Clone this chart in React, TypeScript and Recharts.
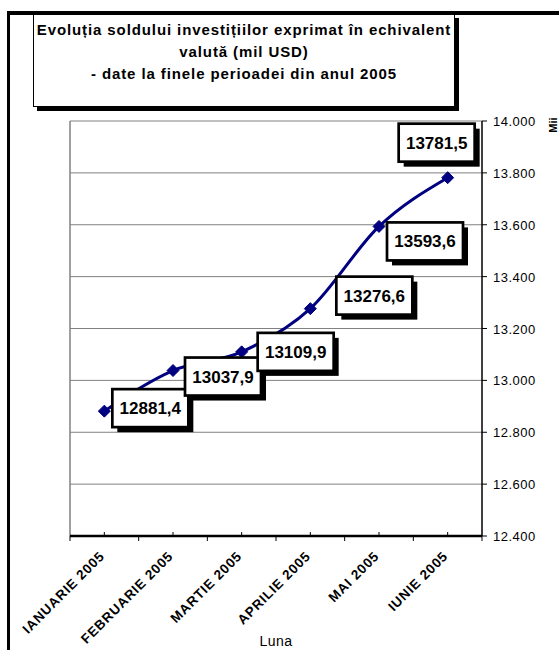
import React from "react";
import {
  LineChart,
  Line,
  XAxis,
  YAxis,
  CartesianGrid,
  ReferenceLine,
  LabelList,
  Label,
} from "recharts";

const months = [
  "IANUARIE 2005",
  "FEBRUARIE 2005",
  "MARTIE 2005",
  "APRILIE 2005",
  "MAI 2005",
  "IUNIE 2005",
];

const balance = [12881.4, 13037.9, 13109.9, 13276.6, 13593.6, 13781.5];

const yTicks = [12400, 12600, 12800, 13000, 13200, 13400, 13600, 13800, 14000];

const FONT = "Arial, 'Liberation Sans', sans-serif";
const NAVY = "#000080";

// box offsets from each point (Excel-style manual label placement)
const labelOffsets = [
  [46, -3],
  [50, 6],
  [54, 0],
  [64, -13],
  [46, 15],
  [-11, -35],
];

const data = months.map((m, i) => ({ x: i + 0.5, month: m, value: balance[i] }));

const xTicks: number[] = [];
for (let i = 0; i <= months.length * 2; i++) xTicks.push(i / 2);

const fmtThousands = (v: number) =>
  v.toString().replace(/\B(?=(\d{3})+(?!\d))/g, ".");

const MonthTick = (props: any) => {
  const { x, y, payload } = props;
  const v = payload.value as number;
  if (Number.isInteger(v)) {
    return <line x1={x} y1={y} x2={x} y2={y + 5} stroke="#000" strokeWidth={1} />;
  }
  const label = months[Math.floor(v)];
  return (
    <g>
      <line x1={x} y1={y} x2={x} y2={y - 4} stroke="#000" strokeWidth={1} />
      <text
        x={0}
        y={0}
        transform={`translate(${x + 1},${y + 21}) rotate(-45)`}
        textAnchor="end"
        fontFamily={FONT}
        fontWeight="bold"
        fontSize={13.5}
        letterSpacing={0.8}
        fill="#000"
      >
        {label}
      </text>
    </g>
  );
};

const ValueTick = (props: any) => {
  const { x, y, payload } = props;
  return (
    <text
      x={x}
      y={y + 5}
      textAnchor="start"
      fontFamily={FONT}
      fontSize={13}
      letterSpacing={0.5}
      fill="#000"
    >
      {fmtThousands(payload.value)}
    </text>
  );
};

const Diamond = (props: any) => {
  const { cx, cy } = props;
  if (cx == null || cy == null) return null;
  const r = 6;
  return (
    <polygon
      points={`${cx},${cy - r} ${cx + r},${cy} ${cx},${cy + r} ${cx - r},${cy}`}
      fill={NAVY}
      stroke={NAVY}
    />
  );
};

const BoxLabel = (props: any) => {
  const { x, y, value, index } = props;
  const [dx, dy] = labelOffsets[index] || [40, 0];
  const w = 76;
  const h = 38;
  const cx = x + dx;
  const cy = y + dy;
  const text = value.toFixed(1).replace(".", ",");
  return (
    <g>
      <rect x={cx - w / 2 + 5} y={cy - h / 2 + 5} width={w} height={h} fill="#000" />
      <rect
        x={cx - w / 2}
        y={cy - h / 2}
        width={w}
        height={h}
        fill="#fff"
        stroke="#000"
        strokeWidth={2.7}
      />
      <text
        x={cx}
        y={cy + 6}
        textAnchor="middle"
        fontFamily={FONT}
        fontWeight="bold"
        fontSize={17}
        fill="#000"
      >
        {text}
      </text>
    </g>
  );
};

export default function App() {
  return (
    <div
      style={{
        position: "absolute",
        left: 0,
        top: 0,
        width: 559,
        height: 650,
        overflow: "hidden",
        background: "#fff",
        fontFamily: FONT,
      }}
    >
      <div
        style={{
          position: "absolute",
          left: 7,
          top: 11,
          width: 600,
          height: 700,
          borderLeft: "3px solid #000",
          borderTop: "4px solid #000",
        }}
      />
      <div style={{ position: "absolute", left: 0, top: 0 }}>
        <LineChart
          width={559}
          height={650}
          data={data}
          margin={{ top: 121, right: 17, left: 70, bottom: 0 }}
        >
          <CartesianGrid
            horizontal
            vertical={false}
            stroke="#808080"
            strokeWidth={1}
          />
          <ReferenceLine x={0} stroke="#808080" strokeWidth={1.5} />
          <XAxis
            type="number"
            dataKey="x"
            domain={[0, 6]}
            ticks={xTicks}
            interval={0}
            tick={<MonthTick />}
            tickLine={false}
            tickSize={0}
            tickMargin={0}
            axisLine={{ stroke: "#000", strokeWidth: 2.5 }}
            height={114}
          >
            <Label
              value="Luna"
              position="insideBottom"
              offset={4}
              style={{ fontFamily: FONT, fontSize: 14, letterSpacing: 0.5, fill: "#000" }}
            />
          </XAxis>
          <YAxis
            orientation="right"
            domain={[12400, 14000]}
            ticks={yTicks}
            interval={0}
            axisLine={{ stroke: "#000", strokeWidth: 1.5 }}
            tickLine={{ stroke: "#000" }}
            tickSize={5}
            tickMargin={6}
            width={60}
            tick={<ValueTick />}
          />
          <Line
            type="monotone"
            dataKey="value"
            stroke={NAVY}
            strokeWidth={3}
            dot={<Diamond />}
            activeDot={false}
            isAnimationActive={false}
          >
            <LabelList dataKey="value" content={<BoxLabel />} />
          </Line>
        </LineChart>
      </div>
      <div
        style={{
          position: "absolute",
          left: 33,
          top: 14,
          width: 422,
          height: 93,
          background: "#fff",
          border: "1px solid #000",
          boxShadow: "4px 4px 0 #000",
          textAlign: "center",
          fontWeight: "bold",
          fontSize: 15,
          letterSpacing: 0.9,
          lineHeight: "22px",
          paddingTop: 4,
          boxSizing: "border-box",
          whiteSpace: "nowrap",
        }}
      >
        Evoluția soldului investițiilor exprimat în echivalent
        <br />
        valută (mil USD)
        <br />- date la finele perioadei din anul 2005
      </div>
      <div
        style={{
          position: "absolute",
          left: 541,
          top: 119,
          width: 24,
          fontWeight: "bold",
          fontSize: 11,
          transform: "rotate(-90deg)",
          textAlign: "center",
        }}
      >
        Mii
      </div>
    </div>
  );
}
